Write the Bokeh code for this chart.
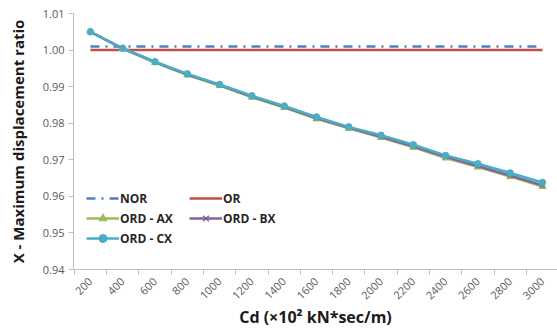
from bokeh.plotting import figure
from bokeh.models import Range1d, FixedTicker, PrintfTickFormatter
from bokeh.embed import file_html
from bokeh.resources import INLINE
import math

# ---- data ----
cd = [200, 400, 600, 800, 1000, 1200, 1400, 1600, 1800, 2000, 2200, 2400, 2600, 2800, 3000]
nor = [1.0010, 1.0010, 1.0010, 1.0010, 1.0010, 1.0010, 1.0010, 1.0010, 1.0010, 1.0010, 1.0010, 1.0010, 1.0010, 1.0010, 1.0010]
or_ = [1.0000, 1.0000, 1.0000, 1.0000, 1.0000, 1.0000, 1.0000, 1.0000, 1.0000, 1.0000, 1.0000, 1.0000, 1.0000, 1.0000, 1.0000]
ord_ax = [1.0050, 1.0004, 0.9966, 0.9932, 0.9903, 0.9871, 0.9843, 0.9812, 0.9786, 0.9761, 0.9734, 0.9705, 0.9680, 0.9654, 0.9627]
ord_bx = [1.0050, 1.0004, 0.9967, 0.9933, 0.9904, 0.9873, 0.9845, 0.9814, 0.9788, 0.9763, 0.9737, 0.9708, 0.9683, 0.9657, 0.9630]
ord_cx = [1.0050, 1.0005, 0.9968, 0.9935, 0.9906, 0.9875, 0.9847, 0.9817, 0.9790, 0.9767, 0.9741, 0.9712, 0.9689, 0.9664, 0.9638]
y_ticks = [0.94, 0.95, 0.96, 0.97, 0.98, 0.99, 1.00, 1.01]

AXIS_GREY = "#BFBFBF"
TICK_TEXT = "#595959"
FONT = "Open Sans"

p = figure(width=557, height=330,
           x_range=Range1d(95, 3093), y_range=Range1d(0.94, 1.01),
           output_backend="svg", toolbar_location=None,
           min_border_left=73, min_border_right=0, min_border_top=13, min_border_bottom=60)
p.outline_line_color = None
p.xgrid.grid_line_color = None
p.ygrid.grid_line_color = None

# series
p.line(cd, nor, color="#4F81BD", line_width=2.5, line_dash="9 6 2 6", legend_label="NOR")
p.line(cd, or_, color="#C0504D", line_width=2.5, legend_label="OR")
p.line(cd, ord_ax, color="#9BBB59", line_width=2.5, legend_label="ORD - AX")
p.scatter(cd, ord_ax, marker="triangle", size=7, color="#9BBB59", legend_label="ORD - AX")
p.line(cd, ord_bx, color="#8064A2", line_width=2.5, legend_label="ORD - BX")
p.scatter(cd, ord_bx, marker="x", size=6, line_width=1.5, color="#8064A2", legend_label="ORD - BX")
p.line(cd, ord_cx, color="#4BACC6", line_width=2.5, legend_label="ORD - CX")
p.scatter(cd, ord_cx, marker="circle", size=6.5, color="#4BACC6", legend_label="ORD - CX")

# x axis
xa = p.xaxis[0]
xa.ticker = FixedTicker(ticks=cd, minor_ticks=[c - 100 for c in cd])
xa.major_label_orientation = math.pi / 4
xa.major_tick_out = 0
xa.major_tick_in = 0
xa.minor_tick_out = 5
xa.minor_tick_in = 0
xa.minor_tick_line_color = AXIS_GREY
xa.axis_line_color = AXIS_GREY
xa.major_label_text_font = FONT
xa.major_label_text_font_size = "11px"
xa.major_label_text_color = TICK_TEXT
xa.major_label_standoff = 5
xa.axis_label = "Cd (×10² kN*sec/m)"
xa.axis_label_text_font = FONT
xa.axis_label_text_font_style = "bold"
xa.axis_label_text_font_size = "16px"
xa.axis_label_text_color = "#1a1a1a"
xa.axis_label_standoff = 0

# y axis
ya = p.yaxis[0]
ya.ticker = FixedTicker(ticks=y_ticks, minor_ticks=[])
ya.formatter = PrintfTickFormatter(format="%.2f")
ya.major_tick_out = 5
ya.major_tick_in = 0
ya.minor_tick_out = 0
ya.minor_tick_in = 0
ya.major_tick_line_color = AXIS_GREY
ya.axis_line_color = AXIS_GREY
ya.major_label_text_font = FONT
ya.major_label_text_font_size = "11px"
ya.major_label_text_color = TICK_TEXT
ya.major_label_standoff = 4
ya.axis_label = "X - Maximum displacement ratio"
ya.axis_label_text_font = FONT
ya.axis_label_text_font_style = "bold"
ya.axis_label_text_font_size = "15px"
ya.axis_label_text_color = "#1a1a1a"
ya.axis_label_standoff = 12

# legend
lg = p.legend[0]
lg.orientation = "horizontal"
lg.ncols = 2
lg.location = (13, 21)
lg.padding = 0
lg.margin = 0
lg.spacing = 0
lg.border_line_color = None
lg.background_fill_alpha = 0
lg.glyph_width = 33
lg.glyph_height = 20
lg.label_height = 20
lg.label_width = 69
lg.label_standoff = 1
lg.label_text_font = FONT
lg.label_text_font_style = "bold"
lg.label_text_font_size = "12px"
lg.label_text_color = "#262626"

open("out.html", "w").write(file_html(p, INLINE))
